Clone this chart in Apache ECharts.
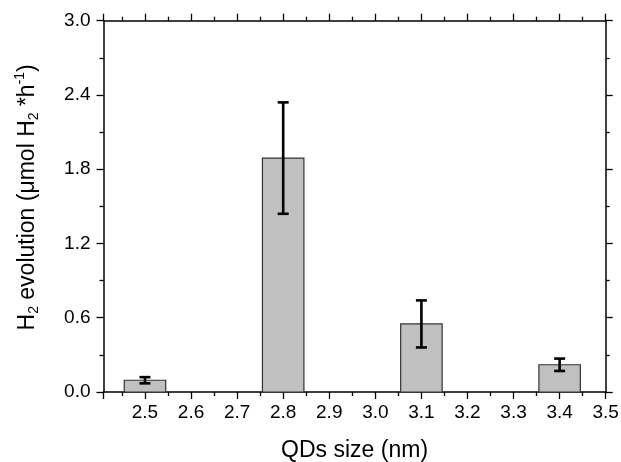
<!DOCTYPE html>
<html>
<head>
<meta charset="utf-8">
<script src="https://cdn.jsdelivr.net/npm/echarts@6/dist/echarts.min.js"></script>
<style>html,body{margin:0;padding:0;background:#fff}#c{width:621px;height:462px}</style>
</head>
<body>
<div id="c"></div>
<script>
// Data
var sizes = [2.5, 2.8, 3.1, 3.4];          // QDs size (nm)
var h2Evolution = [0.095, 1.89, 0.55, 0.22]; // µmol H2 * h^-1
var h2Error = [0.025, 0.45, 0.19, 0.05];   // error bar half-lengths
var yTicks = [0, 0.6, 1.2, 1.8, 2.4, 3.0];

var FONT = '"Liberation Sans", Arial, sans-serif';
var chart = echarts.init(document.getElementById('c'), null, {renderer: 'canvas'});

var barData = sizes.map(function (s, i) { return [s, h2Evolution[i]]; });
var errData = sizes.map(function (s, i) { return [s, h2Evolution[i] - h2Error[i], h2Evolution[i] + h2Error[i]]; });

var axisLineStyle = {color: '#000', width: 1.5};
function xAxisBase(pos, showLabel) {
  return {
    type: 'value', position: pos, min: 2.41, max: 3.5, splitNumber: 11,
    axisLine: {show: true, onZero: false, lineStyle: axisLineStyle},
    axisTick: {show: true, inside: false, length: 7, lineStyle: {color: '#000', width: 1.3}},
    minorTick: {show: true, splitNumber: 2, length: 4, lineStyle: {color: '#000', width: 1.3}},
    splitLine: {show: false}, minorSplitLine: {show: false},
    axisLabel: {show: showLabel, showMinLabel: false, margin: 11, color: '#000', fontSize: 19, fontFamily: FONT,
      formatter: function (v) { return v.toFixed(1); }}
  };
}
function yAxisBase(pos, showLabel) {
  return {
    type: 'value', position: pos, min: 0, max: 3.0, interval: 0.6,
    axisLine: {show: true, onZero: false, lineStyle: axisLineStyle},
    axisTick: {show: true, inside: false, length: 7, lineStyle: {color: '#000', width: 1.3}},
    minorTick: {show: true, splitNumber: 2, length: 4, lineStyle: {color: '#000', width: 1.3}},
    splitLine: {show: false}, minorSplitLine: {show: false},
    axisLabel: {show: showLabel, margin: 13, color: '#000', fontSize: 19, fontFamily: FONT,
      formatter: function (v) { return v.toFixed(1); }}
  };
}

var xBottom = xAxisBase('bottom', true);
xBottom.name = 'QDs size (nm)';
xBottom.nameLocation = 'middle';
xBottom.nameGap = 47;
xBottom.nameTextStyle = {fontSize: 23, color: '#000', fontFamily: FONT};
var xTop = xAxisBase('top', false);

var yLeft = yAxisBase('left', true);
yLeft.name = '{m|H}{s|2}{m| evolution (\u03bcmol H}{s|2}{m| *h}{p|-1}{m|)}';
yLeft.nameLocation = 'middle';
yLeft.nameRotate = 90;
yLeft.nameGap = 62;
yLeft.nameTextStyle = {
  color: '#000', fontFamily: FONT, padding: [0, 0, 0, 18],
  rich: {
    m: {fontSize: 23, color: '#000', fontFamily: FONT, verticalAlign: 'middle', lineHeight: 28},
    s: {fontSize: 14, color: '#000', fontFamily: FONT, verticalAlign: 'bottom', lineHeight: 28},
    p: {fontSize: 14, color: '#000', fontFamily: FONT, verticalAlign: 'top', lineHeight: 28}
  }
};
var yRight = yAxisBase('right', false);

var option = {
  animation: false,
  backgroundColor: '#fff',
  grid: {left: 103.5, right: 15.3, top: 20.7, bottom: 70, containLabel: false, outerBoundsMode: 'none'},
  xAxis: [xBottom, xTop],
  yAxis: [yLeft, yRight],
  series: [
    {
      type: 'custom', xAxisIndex: 0, yAxisIndex: 0, data: barData,
      renderItem: function (params, api) {
        var x = api.value(0), y = api.value(1);
        var halfW = 0.045;
        var p0 = api.coord([x - halfW, y]);
        var p1 = api.coord([x + halfW, 0]);
        return {type: 'rect', shape: {x: p0[0], y: p0[1], width: p1[0] - p0[0], height: p1[1] - p0[1]},
          style: {fill: '#c0c0c0', stroke: '#333', lineWidth: 1.2}};
      }
    },
    {
      type: 'custom', xAxisIndex: 0, yAxisIndex: 0, data: errData, z: 5,
      renderItem: function (params, api) {
        var x = api.value(0);
        var lo = api.coord([x, api.value(1)]);
        var hi = api.coord([x, api.value(2)]);
        var cap = 5.5;
        var st = {stroke: '#000', lineWidth: 2.6};
        return {type: 'group', children: [
          {type: 'line', shape: {x1: lo[0], y1: lo[1], x2: hi[0], y2: hi[1]}, style: st},
          {type: 'line', shape: {x1: lo[0] - cap, y1: lo[1], x2: lo[0] + cap, y2: lo[1]}, style: st},
          {type: 'line', shape: {x1: hi[0] - cap, y1: hi[1], x2: hi[0] + cap, y2: hi[1]}, style: st}
        ]};
      }
    }
  ]
};
chart.setOption(option);
</script>
</body>
</html>
